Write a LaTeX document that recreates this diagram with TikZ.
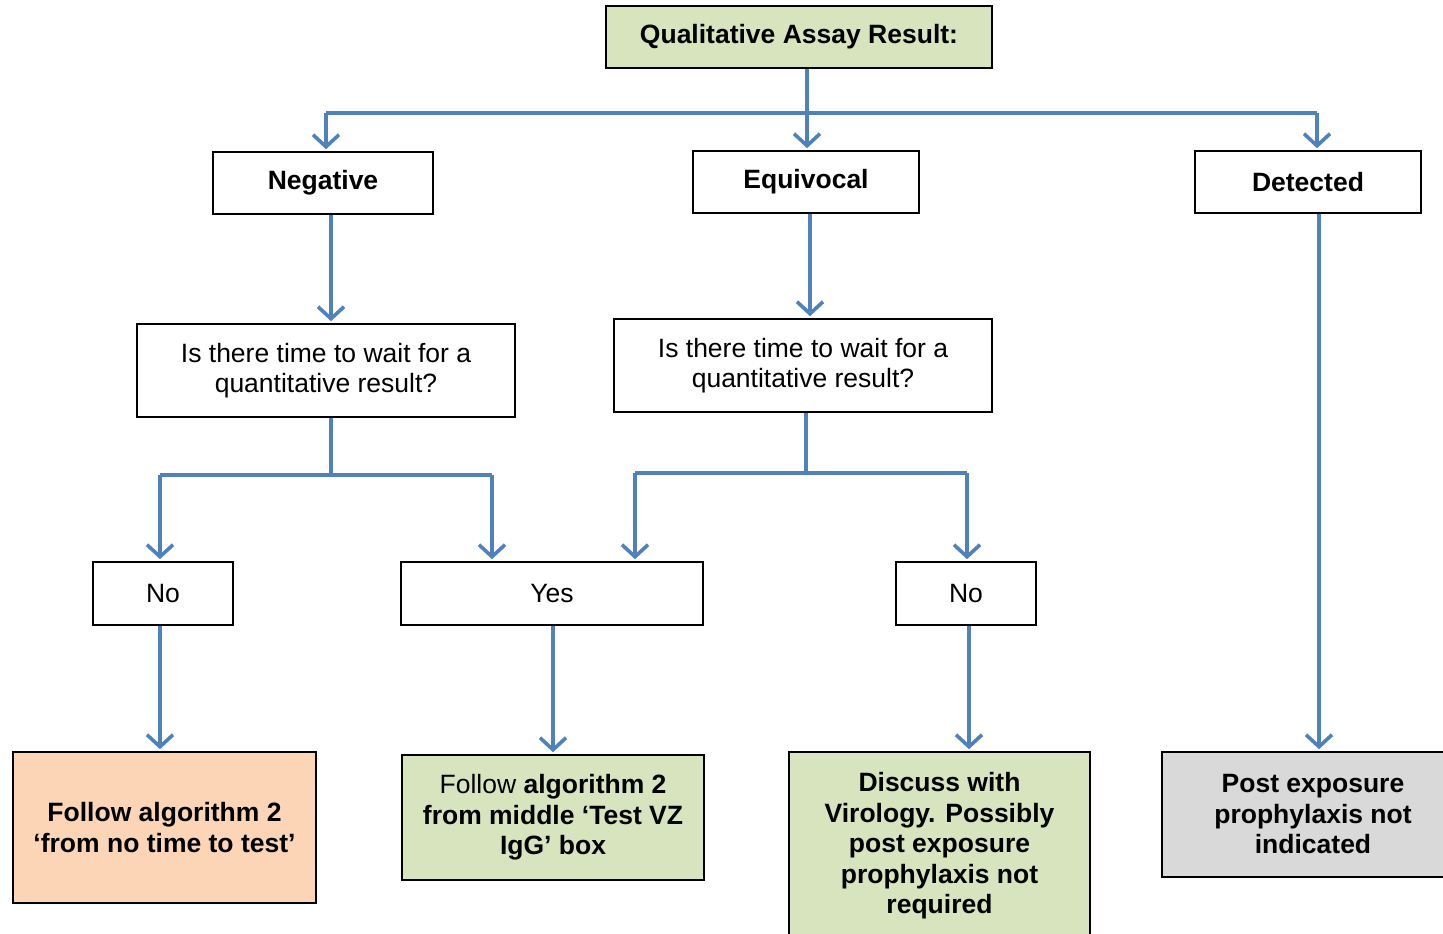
\documentclass[tikz,border=0pt]{standalone}
\usepackage{fontspec}
\setmainfont{Liberation Sans}
\usetikzlibrary{arrows.meta}
\definecolor{arrowblue}{RGB}{79,129,189}
\definecolor{boxgreen}{RGB}{215,228,189}
\definecolor{boxorange}{RGB}{251,213,181}
\definecolor{boxgrey}{RGB}{217,217,217}
\tikzset{
  box/.style={draw=black, line width=1.6pt, align=center, inner sep=0pt,
    font=\fontsize{26.5}{30.5}\selectfont},
  bbox/.style={box, font=\fontsize{26.5}{30.5}\selectfont\bfseries},
  ln/.style={draw=arrowblue, line width=3.6pt},
  arr/.style={ln, -{Straight Barb[length=12pt,width=26pt,line width=3.6pt]}, shorten >=2pt},
}
\begin{document}
\begin{tikzpicture}[x=1pt,y=-1pt]
\useasboundingbox (0,0) rectangle (1443,934);
\clip (0,0) rectangle (1443,934);

% header and the three results
\node[bbox, fill=boxgreen, minimum width=386pt, minimum height=62pt] (top) at (799,37) {Qualitative Assay Result:};
\node[bbox, minimum width=220pt, minimum height=62pt] (neg) at (323,183) {Negative};
\node[bbox, minimum width=226pt, minimum height=62pt] (equ) at (806,182) {Equivocal};
\node[bbox, minimum width=226pt, minimum height=62pt] (det) at (1308,182) {Detected};

% questions
\node[box, minimum width=378pt, minimum height=93pt] (qL) at (326,370.5) {Is there time to wait for a\\quantitative result?};
\node[box, minimum width=378pt, minimum height=93pt] (qR) at (803,365.5) {Is there time to wait for a\\quantitative result?};

% answers
\node[box, minimum width=140pt, minimum height=63pt] (noL) at (163,593.5) {No};
\node[box, minimum width=302pt, minimum height=63pt] (yes) at (552,593.5) {Yes};
\node[box, minimum width=140pt, minimum height=63pt] (noR) at (966,593.5) {No};

% outcomes
\node[bbox, fill=boxorange, minimum width=303pt, minimum height=151pt] (outA) at (164.5,827.5) {Follow algorithm 2\\‘from no time to test’};
\node[box, fill=boxgreen, minimum width=302pt, minimum height=125pt] (outB) at (553,817.5) {Follow \textbf{algorithm 2}\\\textbf{from middle ‘Test VZ}\\\textbf{IgG’ box}};
\node[bbox, fill=boxgreen, minimum width=301pt, minimum height=188pt] (outC) at (939.5,846) {Discuss with\\Virology. Possibly\\post exposure\\prophylaxis not\\required};
\node[bbox, fill=boxgrey, minimum width=302pt, minimum height=125pt] (outD) at (1313,814.5) {Post exposure\\prophylaxis not\\indicated};

% branch points
\coordinate (hub) at (807,113);
\coordinate (hubL) at (326,113);
\coordinate (hubR) at (1317,113);
\coordinate (jL) at (331,475);
\coordinate (jLa) at (160,475);
\coordinate (jLb) at (492,475);
\coordinate (jR) at (806,473);
\coordinate (jRa) at (635,473);
\coordinate (jRb) at (967,473);

% connectors from the header
\draw[ln] (top.south -| hub) -- (hub);
\draw[ln] (hubL) -- (hubR);
\draw[arr] (hubL) -- (hubL |- neg.north);
\draw[arr] (hub) -- (hub |- equ.north);
\draw[arr] (hubR) -- (hubR |- det.north);

% result to question
\draw[arr] (neg.south -| jL) -- (jL |- qL.north);
\draw[arr] ([xshift=4pt]equ.south) -- ([xshift=4pt]equ.south |- qR.north);

% question branches
\draw[ln] (qL.south -| jL) -- (jL);
\draw[ln] (jLa) -- (jLb);
\draw[arr] (jLa) -- (jLa |- noL.north);
\draw[arr] (jLb) -- (jLb |- yes.north);
\draw[ln] (qR.south -| jR) -- (jR);
\draw[ln] (jRa) -- (jRb);
\draw[arr] (jRa) -- (jRa |- yes.north);
\draw[arr] (jRb) -- (jRb |- noR.north);

% answers to outcomes
\draw[arr] (noL.south -| jLa) -- (jLa |- outA.north);
\draw[arr] ([xshift=1pt]yes.south) -- ([xshift=1pt]yes.south |- outB.north);
\draw[arr] ([xshift=3pt]noR.south) -- ([xshift=3pt]noR.south |- outC.north);
\draw[arr] ([xshift=11pt]det.south) -- ([xshift=11pt]det.south |- outD.north);
\end{tikzpicture}
\end{document}
